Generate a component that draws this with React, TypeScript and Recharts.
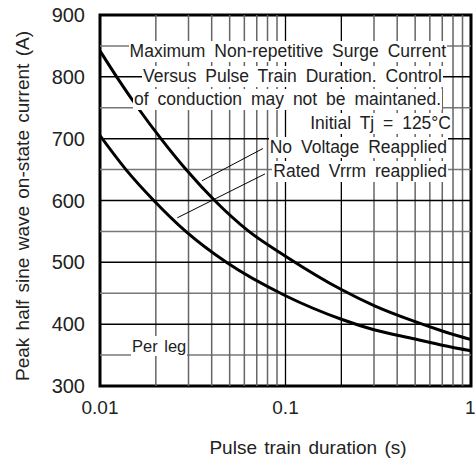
import React from "react";
import { LineChart, Line, XAxis, YAxis, ReferenceLine, ReferenceArea } from "recharts";

// curve readings (pulse train duration in s, peak current in A)
const noVoltageX = [0.01, 0.0123, 0.016, 0.0213, 0.0291, 0.0415, 0.0635, 0.1, 0.2, 0.3, 0.5, 0.7, 1];
const noVoltageY = [842, 800, 750, 700, 650, 600, 550, 510, 456, 430, 404, 389, 375];
const ratedVrrmX = [0.01, 0.0138, 0.0195, 0.029, 0.048, 0.1, 0.2, 0.3, 0.5, 0.7, 1];
const ratedVrrmY = [705, 650, 600, 550, 500, 446, 408, 391, 376, 366, 357];

const xTicks = [0.01, 0.1, 1];
const yTicks = [300, 400, 500, 600, 700, 800, 900];
const yMinorGrid = [350, 450, 550, 650, 750, 850];
const yMajorGrid = [400, 500, 600, 700, 800];
const xMinorGrid = [0.02, 0.03, 0.04, 0.05, 0.06, 0.07, 0.08, 0.09, 0.3, 0.4, 0.5, 0.6, 0.7, 0.8, 0.9];
const xMajorGrid = [0.1, 0.2];

// leader lines from the labels to the curves
const noVoltageLeader = [{ x: 0.0755, y: 684 }, { x: 0.0355, y: 632 }];
const ratedLeader = [{ x: 0.0775, y: 643 }, { x: 0.0261, y: 572 }];

const noVoltageData = noVoltageX.map((x, i) => ({ x, y: noVoltageY[i] }));
const ratedData = ratedVrrmX.map((x, i) => ({ x, y: ratedVrrmY[i] }));

const FONT = '"Liberation Sans", Arial, Helvetica, sans-serif';

const notes = [
  { text: "Maximum Non-repetitive Surge Current", right: 447, cy: 52 },
  { text: "Versus Pulse Train Duration. Control", right: 443, cy: 77 },
  { text: "of conduction may not be maintaned.", right: 442, cy: 100 },
  { text: "Initial Tj = 125°C", right: 452, cy: 124 },
  { text: "No Voltage Reapplied", right: 448, cy: 148 },
  { text: "Rated Vrrm reapplied", right: 448, cy: 172 },
];

export default function App() {
  return (
    <div style={{ position: "absolute", left: 0, top: 0, width: 475, height: 460, fontFamily: FONT }}>
      <LineChart width={475} height={460} margin={{ top: 15, right: 4, bottom: 44, left: 0 }}>
        {yMinorGrid.map((v) => (
          <ReferenceLine key={"ym" + v} y={v} stroke="#777" strokeWidth={1.5} />
        ))}
        {xMinorGrid.map((v) => (
          <ReferenceLine key={"xm" + v} x={v} stroke="#666" strokeWidth={1.5} />
        ))}
        {yMajorGrid.map((v) => (
          <ReferenceLine key={"yM" + v} y={v} stroke="#000" strokeWidth={1.5} />
        ))}
        {xMajorGrid.map((v) => (
          <ReferenceLine key={"xM" + v} x={v} stroke="#000" strokeWidth={1.3} />
        ))}
        <XAxis
          dataKey="x"
          type="number"
          scale="log"
          domain={[0.01, 1]}
          ticks={xTicks}
          allowDataOverflow
          height={30}
          axisLine={false}
          tickLine={false}
          tickSize={0}
          tickMargin={15}
          tickFormatter={(v: number) => String(v)}
          tick={{ fill: "#222", fontSize: 19, fontFamily: FONT }}
          label={{
            content: () => (
              <text x={308} y={447} textAnchor="middle" dominantBaseline="central"
                fill="#222" fontSize={19} fontFamily={FONT} wordSpacing={2}>
                Pulse train duration (s)
              </text>
            ),
          }}
        />
        <YAxis
          dataKey="y"
          type="number"
          domain={[300, 900]}
          ticks={yTicks}
          width={100}
          axisLine={false}
          tickLine={false}
          tickSize={0}
          tickMargin={15}
          tick={{ fill: "#222", fontSize: 20, fontFamily: FONT }}
          label={{
            content: () => (
              <text transform="translate(22,206) rotate(-90)" textAnchor="middle"
                dominantBaseline="central" fill="#222" fontSize={19} fontFamily={FONT} wordSpacing={2}>
                Peak half sine wave on-state current (A)
              </text>
            ),
          }}
        />
        <ReferenceLine segment={noVoltageLeader} stroke="#000" strokeWidth={1} ifOverflow="visible" />
        <ReferenceLine segment={ratedLeader} stroke="#000" strokeWidth={1} ifOverflow="visible" />
        <Line data={noVoltageData} dataKey="y" type="monotoneX" stroke="#000" strokeWidth={3}
          dot={false} isAnimationActive={false} />
        <Line data={ratedData} dataKey="y" type="monotoneX" stroke="#000" strokeWidth={3}
          dot={false} isAnimationActive={false} />
        <ReferenceArea x1={0.01} x2={1} y1={300} y2={900} fill="none" stroke="#000"
          strokeWidth={3} ifOverflow="visible" />
      </LineChart>
      {notes.map((n) => (
        <div key={n.text} style={{
          position: "absolute", right: 475 - n.right, top: n.cy - 11, height: 21, lineHeight: "21px",
          background: "#fff", color: "#222", fontSize: 17.5, wordSpacing: 4, whiteSpace: "nowrap", padding: "0 1px",
        }}>{n.text}</div>
      ))}
      <div style={{
        position: "absolute", left: 131, top: 336, height: 20, lineHeight: "20px",
        background: "#fff", color: "#222", fontSize: 16.5, wordSpacing: 2, whiteSpace: "nowrap", padding: "0 1px",
      }}>Per leg</div>
    </div>
  );
}
